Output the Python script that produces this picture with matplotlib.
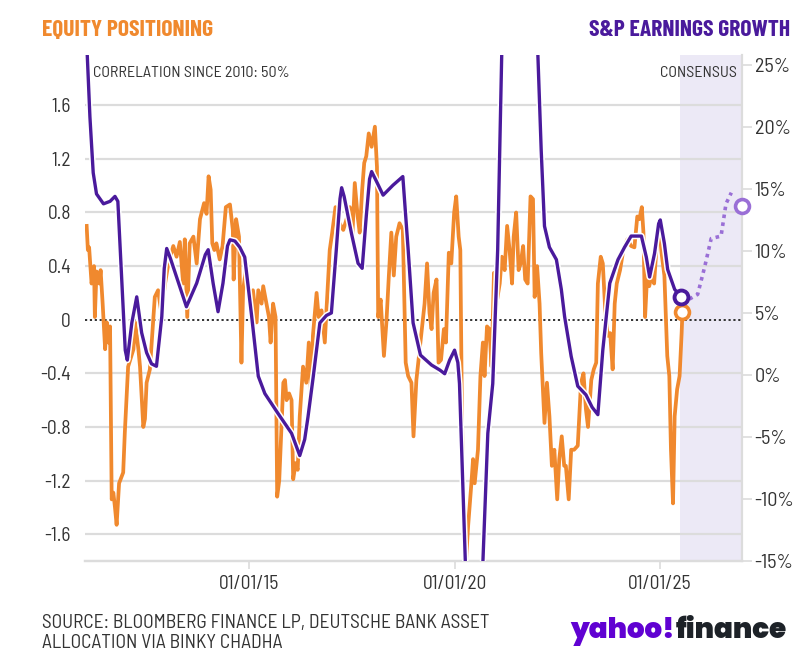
import matplotlib
matplotlib.use("Agg")
import matplotlib.pyplot as plt
import matplotlib.patheffects as pe
from matplotlib import font_manager

# equity positioning (left axis), decimal years
pos_years = [2011.04, 2011.07, 2011.10, 2011.16, 2011.22, 2011.24, 2011.28, 2011.35, 2011.38, 2011.43,
             2011.49, 2011.53, 2011.57, 2011.61, 2011.65, 2011.69, 2011.73, 2011.77, 2011.83, 2011.93,
             2011.97, 2012.05, 2012.18, 2012.22, 2012.30, 2012.34, 2012.42, 2012.46, 2012.50, 2012.58,
             2012.70, 2012.78, 2012.86, 2012.95, 2013.03, 2013.15, 2013.23, 2013.31, 2013.39, 2013.43,
             2013.49, 2013.55, 2013.64, 2013.72, 2013.80, 2013.90, 2013.96, 2014.01, 2014.06, 2014.10,
             2014.15, 2014.20, 2014.28, 2014.35, 2014.43, 2014.53, 2014.60, 2014.62, 2014.68, 2014.75,
             2014.81, 2014.85, 2014.93, 2015.00, 2015.09, 2015.18, 2015.22, 2015.30, 2015.34, 2015.42,
             2015.48, 2015.52, 2015.58, 2015.64, 2015.68, 2015.73, 2015.77, 2015.83, 2015.87, 2015.91,
             2015.97, 2016.03, 2016.07, 2016.13, 2016.18, 2016.23, 2016.31, 2016.39, 2016.45, 2016.51,
             2016.55, 2016.64, 2016.69, 2016.76, 2016.84, 2016.88, 2016.96, 2017.02, 2017.10, 2017.20,
             2017.29, 2017.37, 2017.45, 2017.51, 2017.57, 2017.64, 2017.69, 2017.75, 2017.80, 2017.85,
             2017.91, 2017.98, 2018.06, 2018.11, 2018.14, 2018.20, 2018.28, 2018.34, 2018.40, 2018.46,
             2018.52, 2018.58, 2018.66, 2018.74, 2018.81, 2018.87, 2018.95, 2019.00, 2019.07, 2019.15,
             2019.20, 2019.27, 2019.33, 2019.39, 2019.44, 2019.49, 2019.56, 2019.61, 2019.67, 2019.74,
             2019.79, 2019.86, 2019.92, 2019.99, 2020.04, 2020.10, 2020.14, 2020.18, 2020.25, 2020.33,
             2020.41, 2020.45, 2020.49, 2020.57, 2020.63, 2020.69, 2020.73, 2020.79, 2020.85, 2020.90,
             2020.96, 2021.01, 2021.10, 2021.15, 2021.22, 2021.28, 2021.34, 2021.40, 2021.44, 2021.50,
             2021.56, 2021.61, 2021.67, 2021.72, 2021.78, 2021.85, 2021.91, 2021.95, 2022.01, 2022.07,
             2022.11, 2022.19, 2022.25, 2022.31, 2022.37, 2022.43, 2022.50, 2022.55, 2022.61, 2022.67,
             2022.71, 2022.78, 2022.84, 2022.91, 2023.00, 2023.08, 2023.14, 2023.20, 2023.25, 2023.33,
             2023.39, 2023.45, 2023.49, 2023.56, 2023.61, 2023.67, 2023.73, 2023.79, 2023.85, 2023.90,
             2023.95, 2024.03, 2024.11, 2024.21, 2024.30, 2024.38, 2024.45, 2024.50, 2024.56, 2024.60,
             2024.64, 2024.69, 2024.74, 2024.80, 2024.86, 2024.93, 2024.99, 2025.04, 2025.11, 2025.18,
             2025.23, 2025.27, 2025.32, 2025.36, 2025.42, 2025.48, 2025.53, 2025.55]
pos_values = [0.70, 0.52, 0.54, 0.27, 0.40, 0.02, 0.36, 0.27, 0.37, 0.12,
              -0.22, -0.02, -0.17, -0.05, -1.34, -1.29, -1.40, -1.53, -1.22, -1.14,
              -0.84, -0.35, -0.22, -0.02, -0.22, -0.35, -0.80, -0.74, -0.47, -0.37,
              0.17, 0.22, 0.05, 0.27, 0.42, 0.55, 0.47, 0.58, 0.27, 0.60,
              0.02, 0.57, 0.62, 0.42, 0.75, 0.87, 0.79, 1.07, 0.97, 0.57,
              0.52, 0.57, 0.45, 0.55, 0.84, 0.86, 0.67, 0.30, 0.75, 0.62,
              -0.32, 0.22, 0.40, 0.15, 0.22, -0.02, 0.22, 0.12, 0.25, 0.12,
              0.02, -0.17, 0.12, 0.02, -1.32, -1.20, -0.91, -0.47, -0.45, -0.60,
              -0.55, -0.60, -1.19, -1.07, -1.12, -0.72, -0.35, -0.47, -0.17, -0.60,
              -0.12, 0.20, 0.02, 0.07, -0.17, 0.07, 0.52, 0.65, 0.84, 0.72,
              0.67, 0.75, 0.84, 0.62, 1.02, 0.77, 0.65, 0.97, 1.17, 1.22,
              1.39, 1.29, 1.44, 1.14, 0.02, 0.15, -0.27, -0.02, 0.33, 0.65,
              0.33, 0.62, 0.72, 0.67, -0.32, -0.42, -0.47, -0.87, -0.45, -0.22,
              -0.07, 0.12, 0.42, 0.05, -0.07, 0.20, 0.30, -0.32, -0.30, -0.07,
              -0.17, 0.50, 0.42, 0.80, 0.92, 0.62, 0.52, -0.72, -1.95, -1.54,
              -1.22, -1.04, -1.22, -0.97, -0.42, -0.17, -0.42, -0.05, -0.07, -0.35,
              0.35, 0.10, 0.27, 0.47, 0.37, 0.70, 0.52, 0.27, 0.62, 0.80,
              0.37, 0.42, 0.55, 0.30, 0.27, 0.92, 0.90, 0.17, 0.40, 0.12,
              -0.25, -0.77, -0.47, -0.72, -1.09, -0.97, -1.34, -1.04, -0.87, -1.09,
              -1.09, -1.34, -0.97, -0.97, -0.94, -0.47, -0.40, -0.67, -0.80, -0.45,
              -0.37, -0.32, 0.27, 0.47, 0.42, 0.07, -0.12, -0.10, -0.37, 0.12,
              0.27, 0.37, 0.52, 0.60, 0.55, 0.54, 0.77, 0.75, 0.84, 0.65,
              0.02, 0.33, 0.25, 0.33, 0.27, 0.60, 0.67, 0.50, 0.33, -0.27,
              -0.42, -0.97, -1.37, -0.72, -0.52, -0.42, -0.10, 0.06]

# S&P earnings growth (right axis, %)
eps_years = [2011.00, 2011.12, 2011.20, 2011.28, 2011.45, 2011.61, 2011.73, 2011.80, 2011.86, 2011.98,
             2012.03, 2012.14, 2012.26, 2012.38, 2012.50, 2012.62, 2012.74, 2012.87, 2012.93, 2012.99,
             2013.08, 2013.23, 2013.47, 2013.72, 2013.93, 2014.00, 2014.12, 2014.24, 2014.36, 2014.47,
             2014.53, 2014.65, 2014.77, 2014.89, 2015.06, 2015.22, 2015.38, 2015.70, 2016.03, 2016.23,
             2016.35, 2016.43, 2016.56, 2016.72, 2016.88, 2017.00, 2017.12, 2017.21, 2017.25, 2017.31,
             2017.49, 2017.65, 2017.75, 2017.85, 2017.93, 2017.98, 2018.10, 2018.26, 2018.50, 2018.74,
             2018.87, 2018.99, 2019.17, 2019.44, 2019.64, 2019.76, 2019.88, 2020.00, 2020.08, 2020.12,
             2020.46, 2020.81, 2020.93, 2021.05, 2021.55, 2022.03, 2022.11, 2022.19, 2022.31, 2022.48,
             2022.60, 2022.68, 2022.84, 2023.00, 2023.20, 2023.35, 2023.49, 2023.61, 2023.78, 2023.98,
             2024.14, 2024.30, 2024.55, 2024.67, 2024.75, 2024.87, 2024.97, 2025.01, 2025.11, 2025.19,
             2025.36, 2025.52]
eps_values = [30.0, 20.8, 16.3, 14.6, 13.8, 14.0, 14.4, 14.0, 10.0, 2.0,
              1.2, 4.2, 6.3, 3.4, 1.8, 0.9, 0.7, 4.7, 8.6, 10.2,
              9.4, 7.9, 5.5, 7.4, 9.7, 10.1, 7.4, 5.1, 7.4, 10.4,
              10.9, 10.8, 10.3, 9.5, 4.7, -0.1, -1.5, -3.1, -4.7, -6.5,
              -5.2, -3.4, -0.1, 4.2, 4.8, 5.0, 10.1, 14.2, 15.1, 14.4,
              11.4, 9.0, 8.6, 12.8, 15.8, 16.4, 15.6, 14.5, 15.3, 16.0,
              10.1, 4.2, 1.6, 0.8, 0.4, 0.1, 1.2, 2.0, 1.0, -0.7,
              -35.0, -4.7, -0.7, 10.1, 90.0, 25.7, 18.1, 12.0, 10.3, 9.3,
              6.9, 4.7, 1.5, -0.9, -1.6, -2.6, -3.2, 2.0, 7.4, 9.3,
              10.3, 11.2, 11.2, 9.5, 7.9, 9.8, 12.2, 12.5, 10.6, 8.5,
              6.9, 6.3]

# consensus estimates
cons_years = [2025.55, 2025.92, 2026.09, 2026.25, 2026.49, 2026.61, 2026.74]
cons_values = [5.8, 6.5, 8.7, 11.0, 11.2, 13.8, 14.7]
cons_end_year, cons_end_value = 2027.0, 13.6

ORANGE = "#F0892E"
PURPLE = "#4A1A9C"
LILAC = "#9A6FD6"
GRID = "#DCDCDC"
TXT = "#333333"

names = {f.name for f in font_manager.fontManager.ttflist}


def pick(*cands):
    for c in cands:
        if c in names:
            return c
    return "DejaVu Sans"


BODY = pick("Barlow Semi Condensed", "Roboto Condensed", "Archivo Narrow", "Liberation Sans Narrow", "Liberation Sans")
HEAD = pick("Barlow Condensed", "Barlow Semi Condensed", "Roboto Condensed", "Oswald", "Liberation Sans Narrow")
LOGO = pick("Poppins", "Archivo Black", "DejaVu Sans")

plt.rcParams["font.family"] = [BODY, "DejaVu Sans"]

fig = plt.figure(figsize=(8.11, 6.59), dpi=100)
ax = fig.add_axes([85 / 811, 1 - 561 / 659, (742 - 85) / 811, (561 - 55) / 659])
ax2 = ax.twinx()

ax.set_xlim(2011.0, 2027.0)
ax.set_ylim(-1.8, 1.975)
ax2.set_ylim(-15, 25.8)

left_ticks = [-1.6, -1.2, -0.8, -0.4, 0, 0.4, 0.8, 1.2, 1.6]
left_labels = ["-1.6", "-1.2", "-0.8", "-0.4", "0", "0.4", "0.8", "1.2", "1.6"]
right_ticks = [-15, -10, -5, 0, 5, 10, 15, 20, 25]
x_ticks = [2015, 2020, 2025]
x_labels = ["01/01/15", "01/01/20", "01/01/25"]

ax.axvspan(2025.5, 2027.0, color="#ECE9F6", zorder=0, lw=0)
for t in left_ticks:
    if t != 0:
        ax.axhline(t, color=GRID, lw=1.6, zorder=1)
ax.axhline(0, color="#222222", lw=1.3, ls=(0, (1.2, 1.5)), zorder=2)

ax.plot(pos_years, pos_values, color=ORANGE, lw=2.7, zorder=3, solid_joinstyle="round")
ax.plot([pos_years[-1]], [pos_values[-1]], "o", ms=10, mfc="white", mec=ORANGE, mew=2.6, zorder=4)

ax2.plot(eps_years, eps_values, color=PURPLE, lw=2.4, zorder=3, solid_joinstyle="round",
         path_effects=[pe.Stroke(linewidth=4.6, foreground="white"), pe.Normal()])
ax2.plot(cons_years, cons_values, color=LILAC, lw=2.6, ls=(0, (1, 1.2)), zorder=3)
ax2.plot([eps_years[-1]], [eps_values[-1]], "o", ms=10, mfc="white", mec=PURPLE, mew=2.8, zorder=5)
ax2.plot([cons_end_year], [cons_end_value], "o", ms=10, mfc="white", mec=LILAC, mew=2.6,
         zorder=5, clip_on=False)

ax.set_yticks(left_ticks)
ax.set_yticklabels(left_labels, fontsize=14, color=TXT)
ax.tick_params(axis="y", length=0, pad=10)
ax.set_xticks(x_ticks)
ax.set_xticklabels(x_labels, fontsize=14, color=TXT)
ax.tick_params(axis="x", length=6, color=GRID, width=1.2, pad=4)

ax2.set_yticks(right_ticks)
ax2.set_yticklabels([f"{t}%" for t in right_ticks], fontsize=14.5, color=TXT)
ax2.tick_params(axis="y", length=7, color=GRID, width=1.2, pad=2)

for a in (ax, ax2):
    for s in ("top", "left"):
        a.spines[s].set_visible(False)
    a.spines["right"].set_color(GRID)
    a.spines["right"].set_linewidth(1.6)
    a.spines["bottom"].set_color(GRID)
    a.spines["bottom"].set_linewidth(1.6)
ax.spines["right"].set_visible(False)

ax.text(2011.2, 1.84, "CORRELATION SINCE 2010: 50%", fontsize=11.5, color=TXT, va="center", zorder=6)
ax.text(2026.88, 1.84, "CONSENSUS", fontsize=11.5, color=TXT, va="center", ha="right", zorder=6)

fig.text(42 / 811, 1 - 30 / 659, "EQUITY POSITIONING", fontsize=17, fontweight="bold",
         color=ORANGE, va="center", ha="left", family=[HEAD, "DejaVu Sans"])
fig.text(790 / 811, 1 - 30 / 659, "S&P EARNINGS GROWTH", fontsize=17, fontweight="bold",
         color=PURPLE, va="center", ha="right", family=[HEAD, "DejaVu Sans"])

fig.text(42 / 811, 1 - 623 / 659, "SOURCE: BLOOMBERG FINANCE LP, DEUTSCHE BANK ASSET",
         fontsize=14, color=TXT, va="center", ha="left")
fig.text(42 / 811, 1 - 643 / 659, "ALLOCATION VIA BINKY CHADHA",
         fontsize=14, color=TXT, va="center", ha="left")

fig.text(675 / 811, 1 - 632 / 659, "yahoo!", fontsize=20, fontweight="black",
         color="#6001D2", va="center", ha="right", family=[LOGO, "DejaVu Sans"])
fig.text(676 / 811, 1 - 632 / 659, "finance", fontsize=20, fontweight="black",
         color="#1D2228", va="center", ha="left", family=[LOGO, "DejaVu Sans"])

fig.savefig("out.png", dpi=100)
